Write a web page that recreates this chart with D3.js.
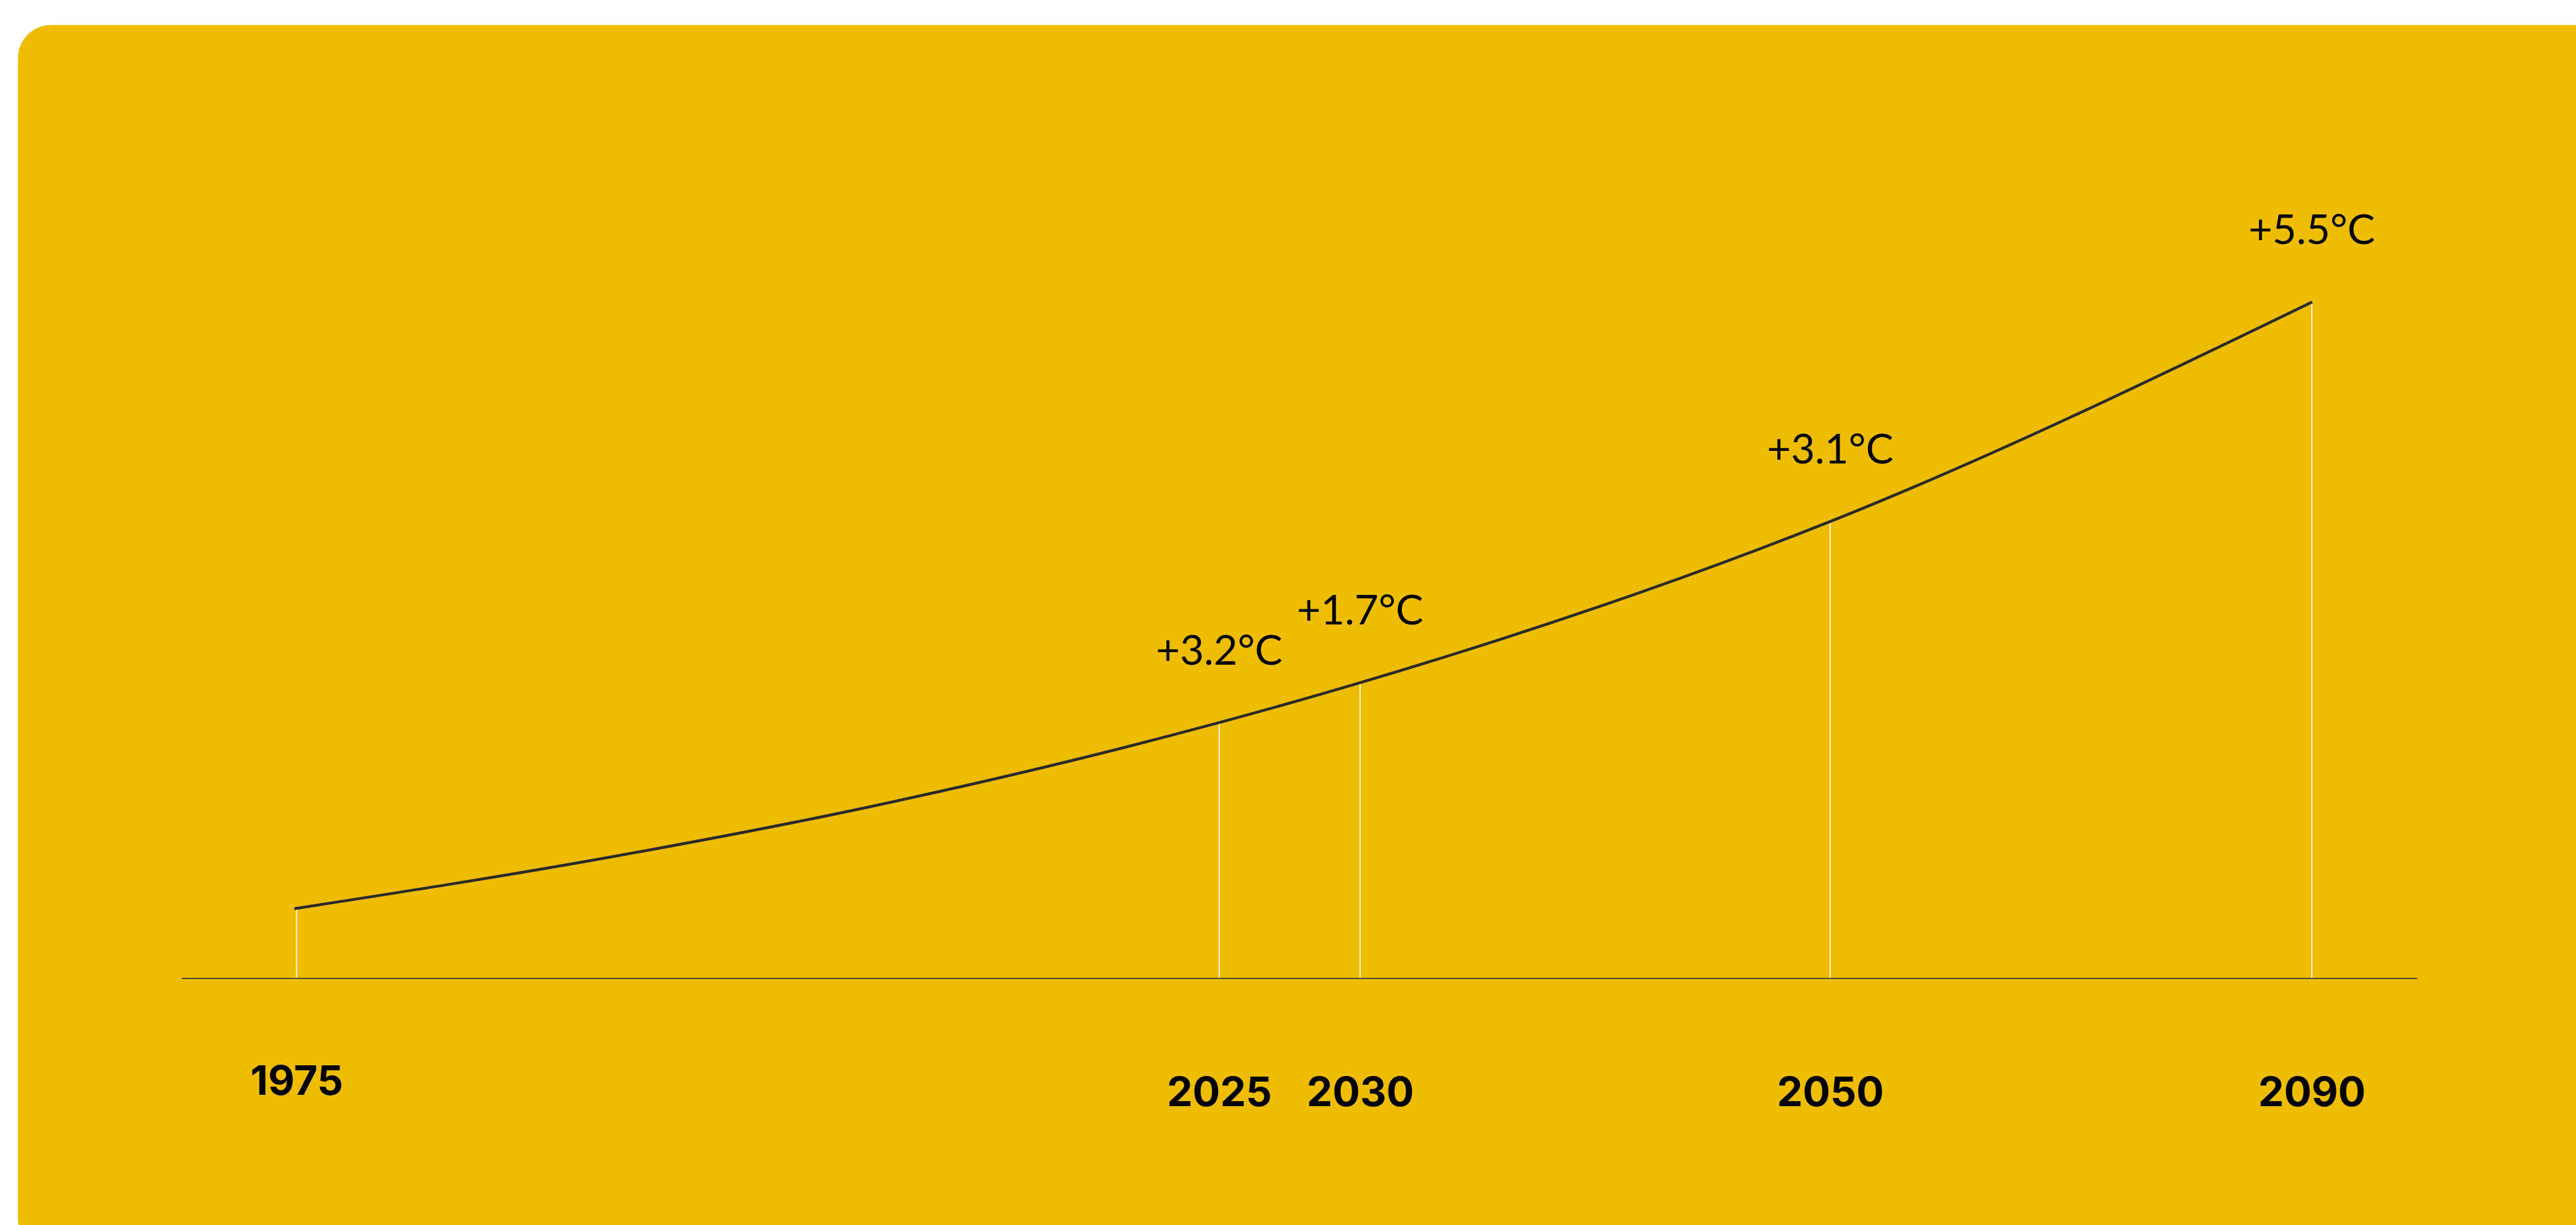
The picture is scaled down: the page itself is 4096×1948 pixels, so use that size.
<!DOCTYPE html>
<html>
<head>
<meta charset="utf-8">
<script src="https://cdn.jsdelivr.net/npm/d3@7"></script>
<style>
  html, body { margin: 0; padding: 0; background: #ffffff; }
  svg { display: block; }
</style>
</head>
<body>
<svg id="chart" width="4096" height="1948" viewBox="0 0 5040 2397"></svg>
<script>
// ---- data ----
const years = [1975, 2025, 2030, 2050, 2090];
// position of each year along the illustrative timeline (0–100 of axis length)
const timeline = [5.15, 46.42, 52.72, 73.75, 95.29];
// height of the warming curve at each year (illustrative 0–100 units)
const levels = [9.7, 35.7, 41.3, 63.8, 94.5];
const tempLabels = [null, "+3.2°C", "+1.7°C", "+3.1°C", "+5.5°C"];
// the warming curve, read at several points along the timeline
const trendPos   = [5.05, 19.32, 30.75, 46.41, 52.72, 73.78, 95.31];
const trendLevel = [9.71, 17.0, 23.93, 35.71, 41.29, 63.86, 94.5];

// ---- layout ----
const svg = d3.select("#chart");
const x = d3.scaleLinear().domain([0, 100]).range([355, 4729]);
const y = d3.scaleLinear().domain([0, 100]).range([1914, 514]);

svg.append("rect")
  .attr("x", 35).attr("y", 49)
  .attr("width", 5100).attr("height", 2400)
  .attr("rx", 65).attr("ry", 65)
  .attr("fill", "#EEBC00");

const points = years.map((yr, i) => ({ year: yr, pos: timeline[i], level: levels[i], label: tempLabels[i] }));

// drop lines
svg.append("g").selectAll("line").data(points).join("line")
  .attr("x1", d => x(d.pos)).attr("x2", d => x(d.pos))
  .attr("y1", d => y(d.level)).attr("y2", y(0))
  .attr("stroke", "#ffffff").attr("stroke-width", 2.2);

// axis / baseline
const axis = d3.axisBottom(x)
  .tickValues(timeline)
  .tickFormat((d, i) => years[i])
  .tickSize(0)
  .tickPadding(0);
const gAxis = svg.append("g").attr("transform", `translate(0,${y(0)})`).call(axis);
gAxis.select(".domain").attr("stroke", "#3f3a2a").attr("stroke-width", 2.4);
gAxis.selectAll(".tick text")
  .attr("dy", null)
  .attr("y", (d, i) => years[i] === 1975 ? 228 : 250)
  .attr("fill", "#000")
  .attr("font-family", "Inter, Lato, sans-serif")
  .attr("font-weight", 700)
  .attr("font-size", 80)
  .attr("text-anchor", "middle");

// curve
const trend = trendPos.map((p, i) => ({ pos: p, level: trendLevel[i] }));
svg.append("path")
  .datum(trend)
  .attr("fill", "none")
  .attr("stroke", "#2a2a2a")
  .attr("stroke-width", 5.5)
  .attr("d", d3.line().x(d => x(d.pos)).y(d => y(d.level)).curve(d3.curveMonotoneX));

// temperature labels
svg.append("g").selectAll("text").data(points.filter(d => d.label)).join("text")
  .attr("x", d => x(d.pos))
  .attr("y", d => y(d.level) - 114)
  .attr("text-anchor", "middle")
  .attr("font-family", "Lato, sans-serif")
  .attr("font-weight", 400)
  .attr("font-size", 81)
  .attr("fill", "#000")
  .text(d => d.label);
</script>
</body>
</html>
